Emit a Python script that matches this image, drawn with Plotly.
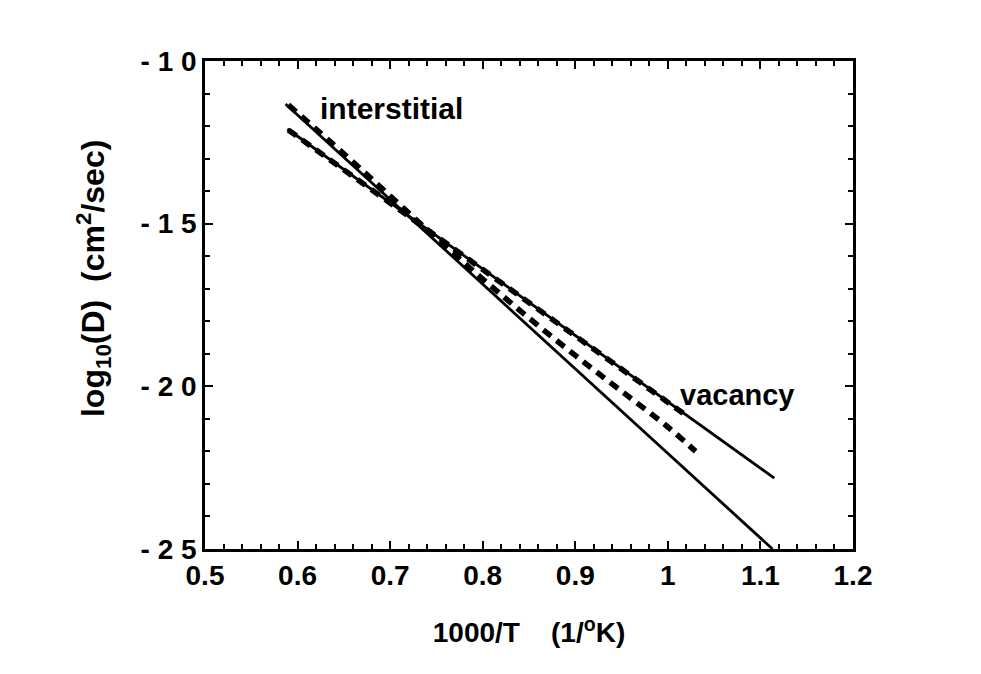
import plotly.graph_objects as go

# Data
interstitial_x = [0.587, 1.113]
interstitial_y = [-11.32, -25.0]

vacancy_x = [0.589, 1.115]
vacancy_y = [-12.09, -22.82]

dashed_vac_x = [0.59, 0.70, 0.80, 0.90, 1.02]
dashed_vac_y = [-12.12, -14.35, -16.42, -18.45, -20.90]

dashed_mix_x = [0.59, 0.65, 0.70, 0.75, 0.80, 0.85, 0.90, 0.95, 1.00, 1.03]
dashed_mix_y = [-11.35, -12.85, -14.15, -15.45, -16.70, -17.90, -19.05, -20.15, -21.25, -22.00]

x_ticks = [0.5, 0.6, 0.7, 0.8, 0.9, 1.0, 1.1, 1.2]
x_tick_labels = ["0.5", "0.6", "0.7", "0.8", "0.9", "1", "1.1", "1.2"]
y_ticks = [-10, -15, -20, -25]
y_tick_labels = ["- 1 0", "- 1 5", "- 2 0", "- 2 5"]

fig = go.Figure()
fig.add_trace(go.Scatter(x=interstitial_x, y=interstitial_y, mode="lines",
                         line=dict(color="black", width=2.8), showlegend=False))
fig.add_trace(go.Scatter(x=vacancy_x, y=vacancy_y, mode="lines",
                         line=dict(color="black", width=2.8), showlegend=False))
fig.add_trace(go.Scatter(x=dashed_vac_x, y=dashed_vac_y, mode="lines",
                         line=dict(color="black", width=5.5, dash="10px,7px"), showlegend=False))
fig.add_trace(go.Scatter(x=dashed_mix_x, y=dashed_mix_y, mode="lines",
                         line=dict(color="black", width=5.5, dash="10px,7px", shape="spline"),
                         showlegend=False))

font_b = "Liberation Sans"
fig.add_annotation(x=0.622, y=-11.47, text="<b>interstitial</b>", showarrow=False,
                   xanchor="left", yanchor="middle",
                   font=dict(family=font_b, size=30, color="black"))
fig.add_annotation(x=1.011, y=-20.28, text="<b>vacancy</b>", showarrow=False,
                   xanchor="left", yanchor="middle",
                   font=dict(family=font_b, size=29, color="black"))
# y-axis title placed as a rotated annotation to match the reference position
fig.add_annotation(x=-0.173, y=0.555, xref="paper", yref="paper",
                   text="<b>log<sub>10</sub>(D)  (cm<sup>2</sup>/sec)</b>", showarrow=False,
                   textangle=-90, xanchor="center", yanchor="middle",
                   font=dict(family=font_b, size=32, color="black"))

axis_common = dict(showgrid=False, zeroline=False, showline=True, linecolor="black",
                   linewidth=2.5, mirror="allticks", ticks="inside", ticklen=8,
                   tickwidth=2, tickcolor="black",
                   tickfont=dict(family=font_b, size=28, color="black"))

fig.update_xaxes(range=[0.5, 1.2], tickvals=x_ticks, ticktext=["<b>%s</b>" % t for t in x_tick_labels],
                 minor=dict(dtick=0.02, ticks="inside", ticklen=5, tickwidth=1.5, tickcolor="black"),
                 title=dict(text="<b>1000/T    (1/<sup>o</sup>K)</b>",
                            font=dict(family=font_b, size=28, color="black"), standoff=33),
                 **axis_common)
fig.update_yaxes(range=[-25, -10], tickvals=y_ticks, ticktext=["<b>%s</b>" % t for t in y_tick_labels],
                 minor=dict(dtick=1, ticks="inside", ticklen=5, tickwidth=1.5, tickcolor="black"),
                 **axis_common)

fig.update_layout(width=981, height=674, plot_bgcolor="white", paper_bgcolor="white",
                  margin=dict(l=197, r=136, t=53, b=133, autoexpand=False), showlegend=False)

fig.write_html("out.html")
